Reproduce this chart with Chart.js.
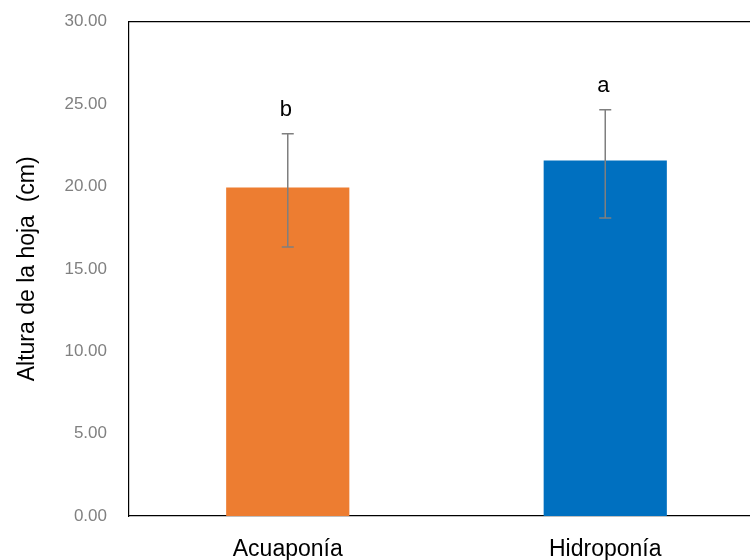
<!DOCTYPE html>
<html>
<head>
<meta charset="utf-8">
<script src="https://cdn.jsdelivr.net/npm/chart.js@4.4.1/dist/chart.umd.min.js"></script>
<style>
  html, body { margin: 0; padding: 0; background: #fff; overflow: hidden; }
  #wrap { width: 764px; height: 560px; }
</style>
</head>
<body>
<div id="wrap"><canvas id="chart" width="764" height="560"></canvas></div>
<script>
const categories = ['Acuaponía', 'Hidroponía'];
const means = [19.94, 21.58];
const errLow = [16.33, 18.08];
const errHigh = [23.2, 24.65];
const letters = ['b', 'a'];
const barColors = ['#ED7D31', '#0070C0'];
const yTicks = [0, 5, 10, 15, 20, 25, 30];

// error bars + significance letters, placed through the chart scales
const errorBarPlugin = {
  id: 'errorBars',
  afterDatasetsDraw(chart) {
    const ctx = chart.ctx;
    const x = chart.scales.x;
    const y = chart.scales.y;
    const area = chart.chartArea;
    ctx.save();
    // top frame line
    ctx.strokeStyle = '#000';
    ctx.lineWidth = 1.2;
    ctx.beginPath();
    ctx.moveTo(area.left, area.top);
    ctx.lineTo(area.right, area.top);
    ctx.stroke();

    ctx.strokeStyle = '#7f7f7f';
    ctx.lineWidth = 1.5;
    categories.forEach((c, i) => {
      const cx = x.getPixelForValue(i);
      const yHi = y.getPixelForValue(errHigh[i]);
      const yLo = y.getPixelForValue(errLow[i]);
      ctx.beginPath();
      ctx.moveTo(cx, yHi);
      ctx.lineTo(cx, yLo);
      ctx.moveTo(cx - 6, yHi);
      ctx.lineTo(cx + 6, yHi);
      ctx.moveTo(cx - 6, yLo);
      ctx.lineTo(cx + 6, yLo);
      ctx.stroke();

      ctx.fillStyle = '#000';
      ctx.font = '22px "Liberation Sans", Arial, sans-serif';
      ctx.textAlign = 'center';
      ctx.textBaseline = 'bottom';
      ctx.fillText(letters[i], cx - 2, yHi - 13);
    });
    ctx.restore();
  }
};

new Chart(document.getElementById('chart'), {
  type: 'bar',
  data: {
    labels: categories,
    datasets: [{
      data: means,
      backgroundColor: barColors,
      borderWidth: 0,
      categoryPercentage: 1,
      barPercentage: 0.388
    }]
  },
  options: {
    responsive: false,
    animation: false,
    layout: { padding: { top: 15, left: 0, right: 0, bottom: 0 } },
    plugins: {
      legend: { display: false },
      tooltip: { enabled: false }
    },
    scales: {
      x: {
        grid: { display: false },
        border: { display: true, color: '#000', width: 1.2 },
        ticks: {
          color: '#000',
          padding: 12,
          font: { family: '"Liberation Sans", Arial, sans-serif', size: 23 }
        },
        afterFit(scale) { scale.height = 44; }
      },
      y: {
        min: 0,
        max: 30,
        afterBuildTicks(scale) { scale.ticks = yTicks.map(v => ({ value: v })); },
        grid: { display: false },
        border: { display: true, color: '#000', width: 1.2 },
        ticks: {
          color: '#808080',
          padding: 14,
          font: { family: '"Liberation Sans", Arial, sans-serif', size: 17, lineHeight: 0.9 },
          callback: v => v.toFixed(2)
        },
        title: {
          display: true,
          text: 'Altura de la hoja  (cm)',
          color: '#000',
          padding: { top: 14, bottom: 8 },
          font: { family: '"Liberation Sans", Arial, sans-serif', size: 23 }
        },
        afterFit(scale) { scale.width = 129; }
      }
    }
  },
  plugins: [errorBarPlugin]
});
</script>
</body>
</html>
